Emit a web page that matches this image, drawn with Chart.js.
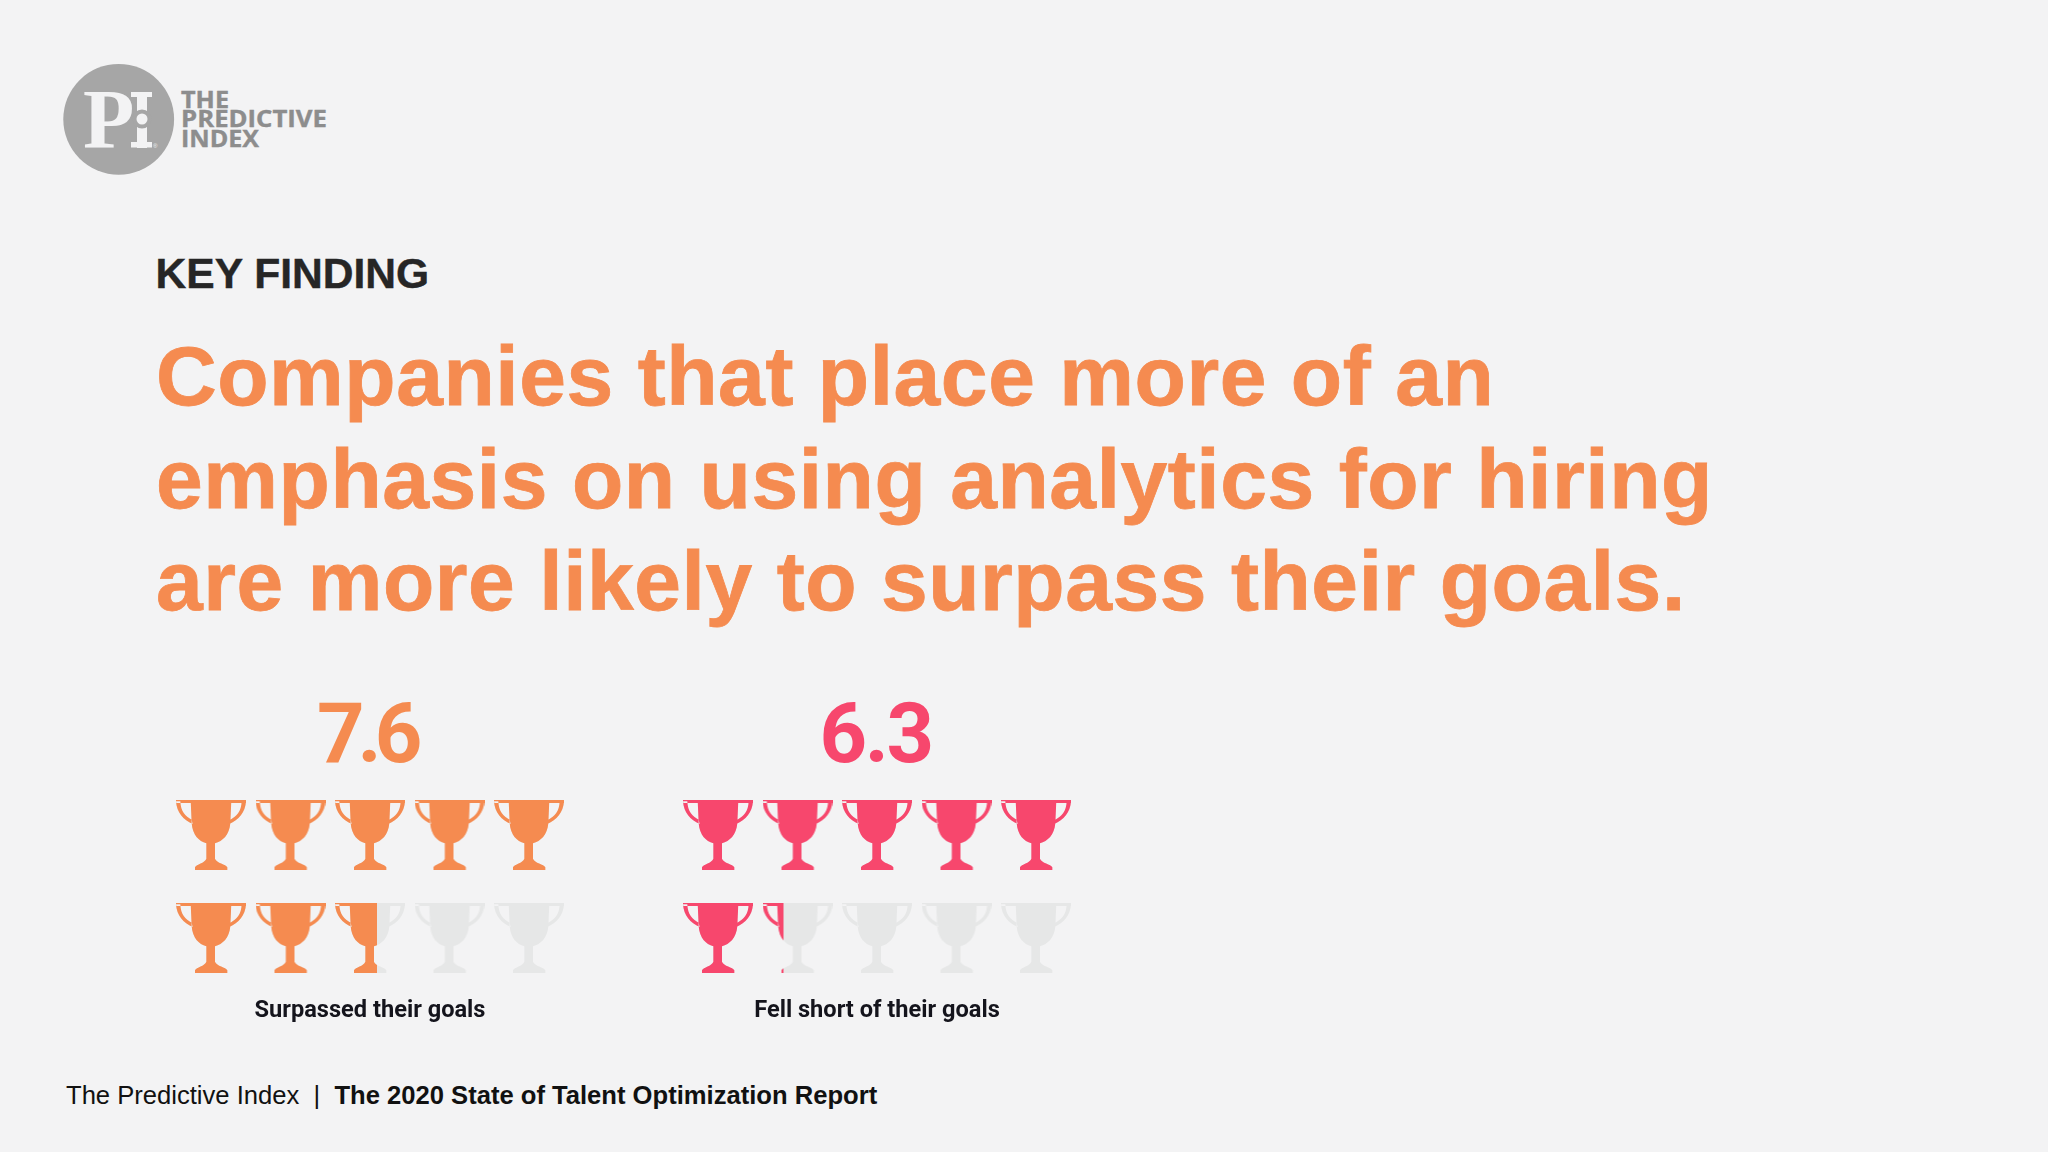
<!DOCTYPE html>
<html>
<head>
<meta charset="utf-8">
<title>Key finding</title>
<script src="https://cdn.jsdelivr.net/npm/chart.js@4/dist/chart.umd.min.js"></script>
<style>
  html, body { margin: 0; padding: 0; width: 2048px; height: 1152px; overflow: hidden; background: #f3f3f4; }
  .abs { position: absolute; white-space: nowrap; }
  #kicker { left: 155.5px; top: 248px; font: bold 42.6px/50px "Liberation Sans"; color: #262626; -webkit-text-stroke: 0.4px #262626; }
  #headline { left: 156px; top: 325px; font: bold 84px/102.5px "Liberation Sans"; color: #f58b50; letter-spacing: 0.56px; -webkit-text-stroke: 0.8px #f58b50; }
  #footer { left: 66px; top: 1080px; font: 400 25.6px/30px "Liberation Sans"; color: #111; }
  #footer b { font-weight: 700; }
  .panel { position: absolute; top: 680px; width: 480px; height: 350px; }
  #logo { position: absolute; left: 40px; top: 40px; }
</style>
</head>
<body>
<svg id="logo" width="320" height="150" viewBox="0 0 320 150">
  <circle cx="78.7" cy="79.3" r="55.4" fill="#a6a6a6"/>
  <text x="43" y="107.5" font-family="Liberation Serif" font-weight="700" font-size="84" fill="#f3f3f4">P</text>
  <rect x="91" y="52" width="21" height="5" fill="#f3f3f4"/>
  <rect x="97" y="52" width="10" height="56" fill="#f3f3f4"/>
  <rect x="91" y="102" width="21" height="5.5" fill="#f3f3f4"/>
  <circle cx="102" cy="79" r="9.5" fill="#a6a6a6"/>
  <circle cx="102" cy="79" r="5.5" fill="#f3f3f4"/>
  <text x="113" y="108" font-family="Liberation Sans" font-size="6" fill="#f3f3f4">®</text>
  <g font-family="Open Sans" font-weight="700" font-size="24" fill="#8d8d8d" stroke="#8d8d8d" stroke-width="0.4">
    <text x="141" y="68" textLength="48" lengthAdjust="spacingAndGlyphs">THE</text>
    <text x="141" y="87" textLength="146" lengthAdjust="spacingAndGlyphs">PREDICTIVE</text>
    <text x="141" y="107" textLength="78" lengthAdjust="spacingAndGlyphs">INDEX</text>
  </g>
</svg>

<div class="abs" id="kicker">KEY FINDING</div>
<div class="abs" id="headline">Companies that place more of an<br>emphasis on using analytics for hiring<br>are more likely to surpass their goals.</div>

<div class="panel" style="left:130px"><canvas id="surpassed"></canvas></div>
<div class="panel" style="left:637px"><canvas id="fellShort"></canvas></div>

<div class="abs" id="footer">The Predictive Index &nbsp;|&nbsp; <b>The 2020 State of Talent Optimization Report</b></div>

<script>
// chart values
const groupLabels = ['Surpassed their goals', 'Fell short of their goals'];
const groupValues = ['7.6', '6.3'];
const slotCols = [0, 1, 2, 3, 4, 0, 1, 2, 3, 4];
const slotRows = [0, 0, 0, 0, 0, 1, 1, 1, 1, 1];
const surpassedFill = [1, 1, 1, 1, 1, 1, 1, 0.6, 0, 0];
const fellShortFill = [1, 1, 1, 1, 1, 1, 0.3, 0, 0, 0];

const orange = '#f58b50';
const pink = '#f7476d';
const empty = '#e6e7e7';

// trophy outline, drawn in a 210 x 210 box
function trophyPath() {
  const p = new Path2D();
  // body and foot
  p.moveTo(44, 0);
  p.lineTo(166, 0);
  p.lineTo(163, 70);
  p.bezierCurveTo(160, 105, 140, 124, 117, 130);
  p.lineTo(117, 176);
  p.bezierCurveTo(122, 190, 150, 192, 154, 202);
  p.lineTo(154, 210);
  p.lineTo(57, 210);
  p.lineTo(57, 202);
  p.bezierCurveTo(61, 192, 86, 190, 91, 176);
  p.lineTo(91, 130);
  p.bezierCurveTo(68, 124, 50, 105, 47, 70);
  p.closePath();
  // rim
  p.rect(0, 0, 210, 9);
  // left handle
  p.moveTo(0, 4);
  p.bezierCurveTo(2, 38, 22, 60, 50, 72);
  p.lineTo(47, 59);
  p.bezierCurveTo(28, 50, 14, 34, 13, 4);
  p.closePath();
  // right handle
  p.moveTo(210, 4);
  p.bezierCurveTo(208, 38, 188, 60, 160, 72);
  p.lineTo(163, 59);
  p.bezierCurveTo(182, 50, 196, 34, 197, 4);
  p.closePath();
  return p;
}

function trophyIcon(color, part) {
  const c = document.createElement('canvas');
  c.width = 70;
  c.height = 70;
  const ctx = c.getContext('2d');
  ctx.scale(70 / 210, 70 / 210);
  const p = trophyPath();
  ctx.fillStyle = empty;
  ctx.fill(p);
  if (part > 0) {
    ctx.save();
    ctx.beginPath();
    ctx.rect(0, 0, 210 * part, 210);
    ctx.clip();
    ctx.fillStyle = color;
    ctx.fill(p);
    ctx.restore();
  }
  return c;
}

// only the big number is set tight, the caption under it keeps normal spacing
function tightTitle(spacing) {
  return {
    id: 'tightTitle',
    beforeDraw(chart) {
      const box = chart.titleBlock;
      if (box.tight) return;
      const drawBox = box.draw;
      box.tight = true;
      box.draw = function () {
        const ctx = chart.ctx;
        ctx.save();
        ctx.letterSpacing = spacing + 'px';
        ctx.translate(spacing * 0.55, 0);
        drawBox.call(box);
        ctx.restore();
      };
    }
  };
}

function drawPanel(id, label, value, fills, color, spacing) {
  new Chart(document.getElementById(id), {
    type: 'scatter',
    plugins: [tightTitle(spacing)],
    data: {
      datasets: [{
        label: label,
        data: slotCols.map((col, i) => ({ x: col, y: slotRows[i] })),
        pointStyle: fills.map(f => trophyIcon(color, f)),
        pointRadius: 35
      }]
    },
    options: {
      responsive: true,
      maintainAspectRatio: false,
      animation: false,
      layout: { padding: { left: 41.25, right: 41.25, top: 0, bottom: 0 } },
      scales: {
        x: { type: 'linear', min: -0.5, max: 4.5, display: false },
        y: { type: 'linear', min: -0.5, max: 1.5, reverse: true, display: false }
      },
      plugins: {
        legend: { display: false },
        tooltip: { enabled: false },
        title: {
          display: true,
          text: value,
          color: color,
          font: { family: 'Roboto', size: 83, weight: '700', lineHeight: 1 },
          padding: { top: 20, bottom: 0.5 }
        },
        subtitle: {
          display: true,
          position: 'bottom',
          text: label,
          color: '#14141c',
          font: { family: 'Roboto', size: 23.6, weight: '700', lineHeight: 1 },
          padding: { top: 10, bottom: 6.9 }
        }
      }
    }
  });
}

drawPanel('surpassed', groupLabels[0], groupValues[0], surpassedFill, orange, -7);
drawPanel('fellShort', groupLabels[1], groupValues[1], fellShortFill, pink, -2.3);
</script>
</body>
</html>
